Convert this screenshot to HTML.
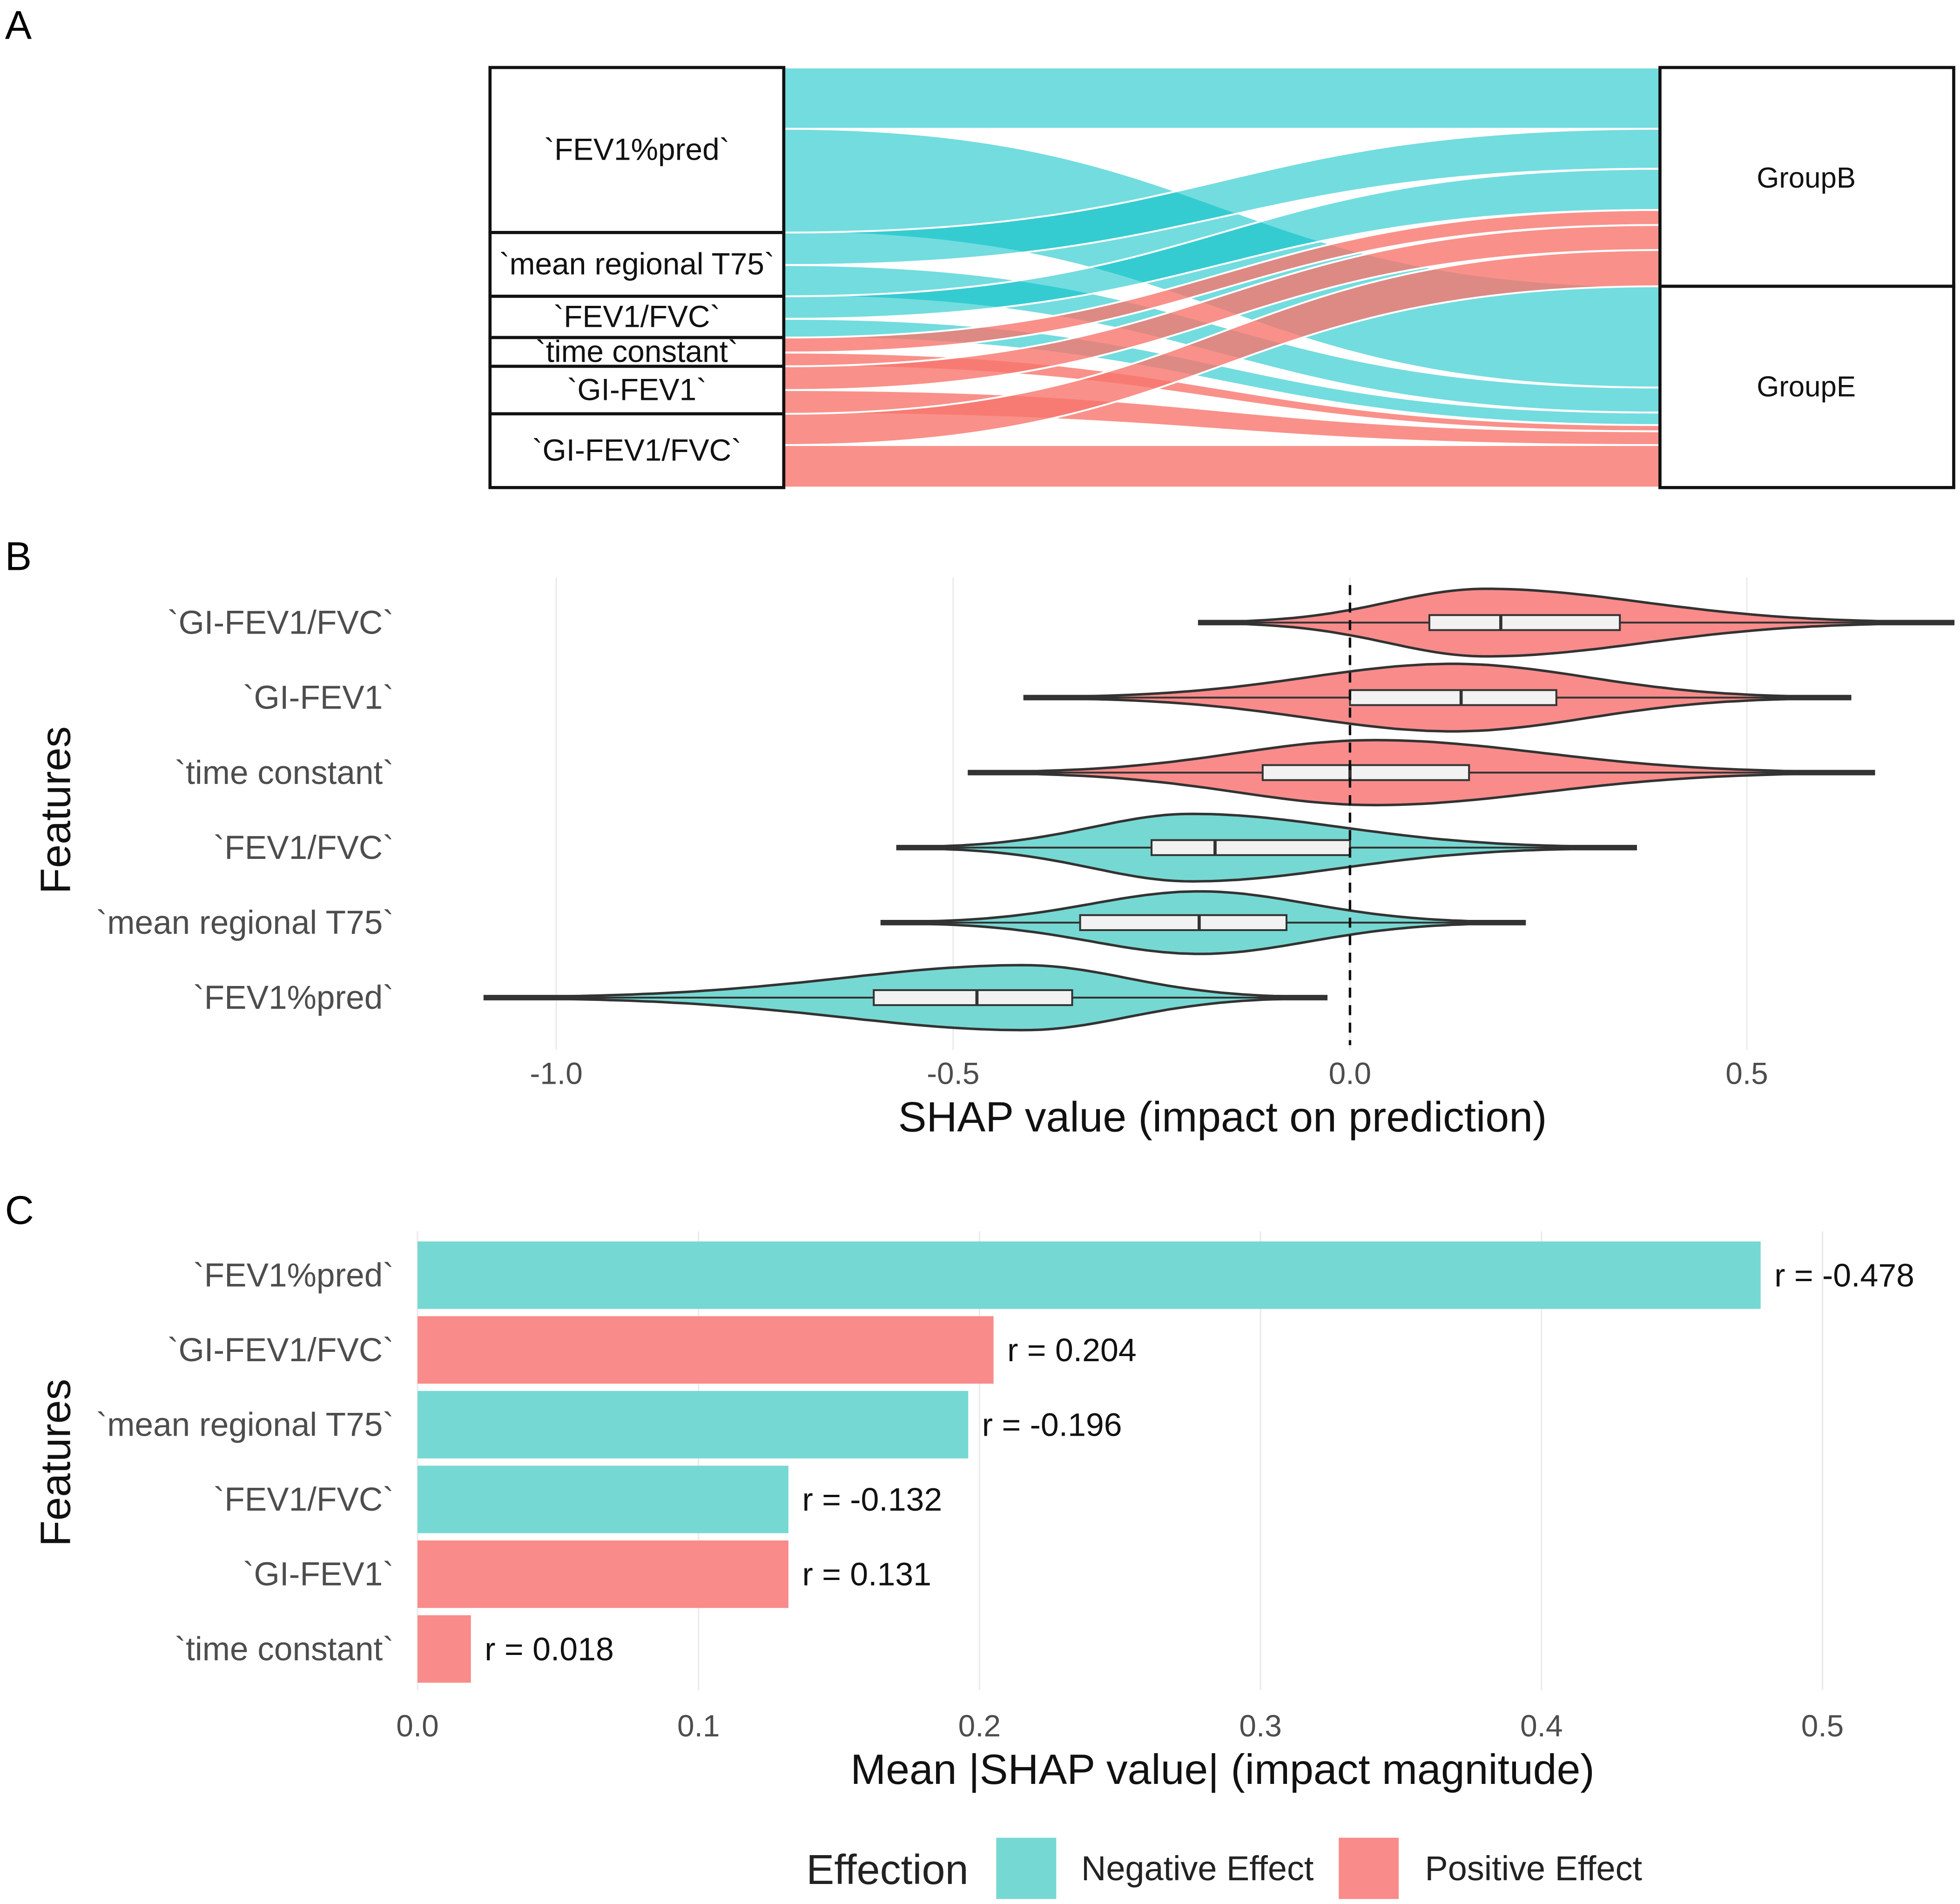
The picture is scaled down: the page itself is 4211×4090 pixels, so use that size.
<!DOCTYPE html>
<html><head><meta charset="utf-8"><style>
html,body{margin:0;padding:0;background:#fff;}
svg{display:block;font-family:"Liberation Sans",sans-serif;}
</style></head><body>
<svg id="fig" width="4211" height="4090" viewBox="0 0 1568 1523" xmlns="http://www.w3.org/2000/svg">
<rect width="1568" height="1523" fill="#fff"/>
<text x="4" y="31" font-size="32">A</text>
<text x="4" y="456" font-size="32">B</text>
<text x="4" y="979" font-size="32">C</text>
<g id="alluvial"></g>
<g id="violin"></g>
<g id="bars"></g>
<g id="legend">
<text x="645" y="1507" font-size="33.5" fill="#222">Effection</text>
<rect x="797" y="1470" width="48" height="49" fill="#76d8d2"/>
<text x="865" y="1504" font-size="27.5" fill="#222">Negative Effect</text>
<rect x="1071" y="1470" width="48" height="49" fill="#f98b8b"/>
<text x="1140" y="1504" font-size="27.5" fill="#222">Positive Effect</text>
</g>
</svg>
<script>
const NS="http://www.w3.org/2000/svg";
const TEAL="#76d8d2", RED="#f98b8b";
function mk(parent,tag,attrs,text){const e=document.createElementNS(NS,tag);for(const k in attrs)e.setAttribute(k,attrs[k]);if(text!==undefined)e.textContent=text;parent.appendChild(e);return e;}

// ---------- Panel A data ----------
const aFeatures=["`FEV1%pred`","`mean regional T75`","`FEV1/FVC`","`time constant`","`GI-FEV1`","`GI-FEV1/FVC`"];
const aToB=[49,26,18,12,19,25];
const aToE=[83,25,15,11,19,34];
const aRightB=[49,32,33,12,20,29];
const aRightE=[81,20,10,5,11,34];
const aPositive=[false,false,false,true,true,true];
(function(){
 const g=document.getElementById('alluvial');
 const L0=627,R0=1328;
 let ly=54, ryB=54, ryE=229;
 const flows=[];
 for(let i=0;i<aFeatures.length;i++){
  flows.push({i,ly:ly,lh:aToB[i],ry:ryB,rh:aRightB[i],g:'B'}); ly+=aToB[i]; ryB+=aRightB[i];
  flows.push({i,ly:ly,lh:aToE[i],ry:ryE,rh:aRightE[i],g:'E'}); ly+=aToE[i]; ryE+=aRightE[i];
 }
 const mid=(L0+R0)/2;
 flows.forEach(f=>{
  const d=`M${L0},${f.ly} C${mid},${f.ly} ${mid},${f.ry} ${R0},${f.ry} L${R0},${f.ry+f.rh} C${mid},${f.ry+f.rh} ${mid},${f.ly+f.lh} ${L0},${f.ly+f.lh} Z`;
  const p=mk(g,'path',{d,fill:aPositive[f.i]?'#F8766D':'#00BFC4','fill-opacity':aPositive[f.i]?0.8:0.55,stroke:'#fff','stroke-width':1.5});
  
  
 });
 let y=54;
 for(let i=0;i<aFeatures.length;i++){
  const h=aToB[i]+aToE[i];
  const r=mk(g,'rect',{x:392,y:y,width:235,height:h,fill:'#fff',stroke:'#111','stroke-width':2.5});
  
  
  const t=mk(g,'text',{x:509.5,y:y+h/2+8,'font-size':24.5,'text-anchor':'middle',fill:'#111'},aFeatures[i]);
  
  
  y+=h;
 }
 const rb=mk(g,'rect',{x:1328,y:54,width:235,height:175,fill:'#fff',stroke:'#111','stroke-width':2.5});
 
 
 const re=mk(g,'rect',{x:1328,y:229,width:235,height:161,fill:'#fff',stroke:'#111','stroke-width':2.5});
 
 
 const tb=mk(g,'text',{x:1445,y:150,'font-size':23,'text-anchor':'middle',fill:'#111'},'GroupB');
 
 
 const te=mk(g,'text',{x:1445,y:317,'font-size':23,'text-anchor':'middle',fill:'#111'},'GroupE');
 
 
})();

// ---------- Panel B data ----------
const vFeatures=["`GI-FEV1/FVC`","`GI-FEV1`","`time constant`","`FEV1/FVC`","`mean regional T75`","`FEV1%pred`"];
const vMin=[-0.19,-0.41,-0.48,-0.57,-0.59,-1.09];
const vQ1=[0.10,0.0,-0.11,-0.25,-0.34,-0.60];
const vMed=[0.19,0.14,0.0,-0.17,-0.19,-0.47];
const vQ3=[0.34,0.26,0.15,0.0,-0.08,-0.35];
const vMax=[0.76,0.63,0.66,0.36,0.22,-0.03];
const vMode=[0.17,0.13,0.03,-0.20,-0.19,-0.41];
const vWidth=[27,27,26,27,25,26];
const vPositive=[true,true,true,false,false,false];
const vTicks=[-1.0,-0.5,0.0,0.5];
const vTickLabels=["-1.0","-0.5","0.0","0.5"];
(function(){
 const g=document.getElementById('violin');
 const X=v=>1080+v*635, Y=i=>498+i*60;
 vTicks.forEach((t,k)=>{
  const l=mk(g,'line',{x1:X(t),x2:X(t),y1:462,y2:840,stroke:'#ebebeb','stroke-width':1.2});
  
  
  const tx=mk(g,'text',{x:X(t),y:867,'font-size':24.5,'text-anchor':'middle',fill:'#4d4d4d'},vTickLabels[k]);
  
  
 });
 vFeatures.forEach((f,i)=>{
  const cy=Y(i);
  const sl=(vMode[i]-vMin[i])/2.1, sr=(vMax[i]-vMode[i])/2.1;
  const top=[],bot=[];
  const N=80;
  for(let k=0;k<=N;k++){
   const v=vMin[i]+(vMax[i]-vMin[i])*k/N;
   const s=v<vMode[i]?sl:sr;
   const h=Math.max(1.2,vWidth[i]*Math.exp(-Math.pow((v-vMode[i])/s,2)));
   top.push(X(v).toFixed(1)+','+(cy-h).toFixed(1));
   bot.unshift(X(v).toFixed(1)+','+(cy+h).toFixed(1));
  }
  const p=mk(g,'polygon',{points:top.concat(bot).join(' '),fill:vPositive[i]?RED:TEAL,stroke:'#333','stroke-width':2});
  
  
  const wl=mk(g,'line',{x1:X(vMin[i]),x2:X(vMax[i]),y1:cy,y2:cy,stroke:'#333','stroke-width':1.5});
  
  
  const b=mk(g,'rect',{x:X(vQ1[i]),y:cy-6,width:X(vQ3[i])-X(vQ1[i]),height:12,fill:'#f2f2f2',stroke:'#333','stroke-width':1.5});
  
  
  const m=mk(g,'line',{x1:X(vMed[i]),x2:X(vMed[i]),y1:cy-6,y2:cy+6,stroke:'#333','stroke-width':2.5});
  
  
  const t=mk(g,'text',{x:315,y:cy+9,'font-size':26.5,'text-anchor':'end',fill:'#4d4d4d'},f);
  
  
 });
 const z=mk(g,'line',{x1:X(0),x2:X(0),y1:468,y2:836,stroke:'#111','stroke-width':2,'stroke-dasharray':'8,6'});
 
 
 const xt=mk(g,'text',{x:978,y:905,'font-size':34,'text-anchor':'middle',fill:'#111'},'SHAP value (impact on prediction)');
 
 
 const yt=mk(g,'text',{x:0,y:0,'font-size':34,'text-anchor':'middle',fill:'#111',transform:'translate(56,648) rotate(-90)'},'Features');
 
 
})();

// ---------- Panel C data ----------
const cFeatures=["`FEV1%pred`","`GI-FEV1/FVC`","`mean regional T75`","`FEV1/FVC`","`GI-FEV1`","`time constant`"];
const cValues=[0.478,0.205,0.196,0.132,0.132,0.019];
const cLabels=["r = -0.478","r = 0.204","r = -0.196","r = -0.132","r = 0.131","r = 0.018"];
const cPositive=[false,true,false,false,true,true];
const cTicks=[0,0.1,0.2,0.3,0.4,0.5];
const cTickLabels=["0.0","0.1","0.2","0.3","0.4","0.5"];
(function(){
 const g=document.getElementById('bars');
 const X=v=>334+v*2248, Y=i=>1020+i*59.8;
 cTicks.forEach((t,k)=>{
  const l=mk(g,'line',{x1:X(t),x2:X(t),y1:985,y2:1352,stroke:'#ebebeb','stroke-width':1.2});
  
  
  const tx=mk(g,'text',{x:X(t),y:1389,'font-size':24.5,'text-anchor':'middle',fill:'#4d4d4d'},cTickLabels[k]);
  
  
 });
 cFeatures.forEach((f,i)=>{
  const cy=Y(i);
  const r=mk(g,'rect',{x:X(0),y:cy-27,width:X(cValues[i])-X(0),height:54,fill:cPositive[i]?RED:TEAL});
  
  
  const lb=mk(g,'text',{x:X(cValues[i])+11,y:cy+9,'font-size':26,fill:'#111'},cLabels[i]);
  
  
  const t=mk(g,'text',{x:315,y:cy+9,'font-size':26.5,'text-anchor':'end',fill:'#4d4d4d'},f);
  
  
 });
 const xt=mk(g,'text',{x:978,y:1427,'font-size':34,'text-anchor':'middle',fill:'#111'},'Mean |SHAP value| (impact magnitude)');
 
 
 const yt=mk(g,'text',{x:0,y:0,'font-size':34,'text-anchor':'middle',fill:'#111',transform:'translate(56,1170) rotate(-90)'},'Features');
 
 
})();
</script>
</body></html>
